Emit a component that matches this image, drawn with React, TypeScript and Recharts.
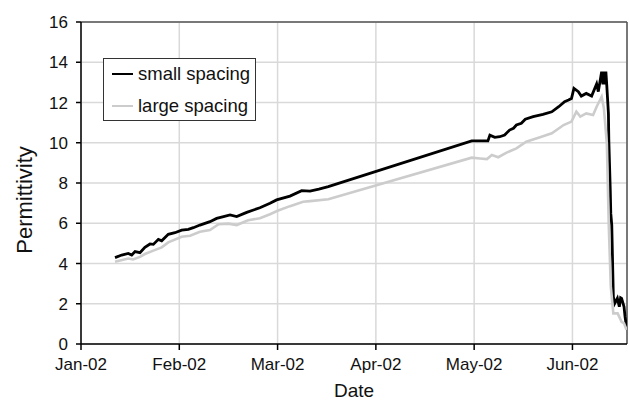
import React from 'react';
import {
  LineChart,
  Line,
  XAxis,
  YAxis,
  CartesianGrid,
  ReferenceLine,
  Label,
} from 'recharts';

// x positions are months since 1 Jan 2002 (axis is spaced one tick per month)
const monthLabels = ['Jan-02', 'Feb-02', 'Mar-02', 'Apr-02', 'May-02', 'Jun-02'];
const monthTicks = [0, 1, 2, 3, 4, 5];
const yTicks = [0, 2, 4, 6, 8, 10, 12, 14, 16];
const xMax = 5.555;

const smallT = [
  0.346, 0.414, 0.481, 0.516, 0.55, 0.6, 0.65, 0.702, 0.736, 0.787, 0.821, 0.888,
  0.956, 1.024, 1.092, 1.143, 1.21, 1.312, 1.38, 1.45, 1.516, 1.584, 1.686, 1.82,
  1.923, 1.99, 2.126, 2.245, 2.33, 2.42, 2.516, 3.975, 4.14, 4.16, 4.21, 4.26,
  4.31, 4.36, 4.4, 4.43, 4.48, 4.52, 4.6, 4.7, 4.79, 4.86, 4.92, 4.96,
  4.99, 5.015, 5.06, 5.09, 5.14, 5.195, 5.246, 5.263, 5.297, 5.31, 5.32, 5.33,
  5.34, 5.35, 5.366, 5.37, 5.385, 5.39, 5.4, 5.416, 5.43, 5.457, 5.477, 5.49,
  5.5, 5.525, 5.535, 5.55,
];
const smallV = [
  4.29, 4.42, 4.5, 4.42, 4.59, 4.54, 4.8, 4.97, 4.95, 5.2, 5.13, 5.45,
  5.53, 5.66, 5.7, 5.78, 5.91, 6.08, 6.24, 6.33, 6.41, 6.33, 6.54, 6.77,
  6.99, 7.16, 7.35, 7.62, 7.6, 7.7, 7.82, 10.09, 10.09, 10.38, 10.27, 10.3,
  10.38, 10.63, 10.72, 10.88, 10.97, 11.17, 11.3, 11.41, 11.54, 11.79, 12.04, 12.12,
  12.2, 12.7, 12.54, 12.32, 12.45, 12.32, 12.92, 12.54, 13.53, 12.9, 13.53, 12.9,
  13.53, 12.79, 11.46, 10.14, 7.6, 6.49, 5.91, 2.35, 2.02, 2.27, 1.85, 2.3,
  2.27, 1.85, 1.36, 0.86,
];

const largeT = [
  0.346, 0.481, 0.53, 0.6, 0.65, 0.736, 0.821, 0.888, 1.024, 1.11, 1.21, 1.312,
  1.4, 1.5, 1.584, 1.7, 1.82, 1.923, 2.0, 2.126, 2.26, 2.33, 2.516, 3.975,
  4.06, 4.13, 4.18, 4.245, 4.33, 4.43, 4.53, 4.67, 4.79, 4.91, 4.99, 5.04,
  5.08, 5.14, 5.21, 5.246, 5.297, 5.32, 5.35, 5.37, 5.39, 5.416, 5.46, 5.5,
  5.525, 5.55,
];
const largeV = [
  4.09, 4.25, 4.2, 4.33, 4.47, 4.64, 4.8, 5.05, 5.33, 5.38, 5.58, 5.66,
  5.95, 5.98, 5.91, 6.15, 6.25, 6.45, 6.62, 6.85, 7.07, 7.1, 7.19, 9.26,
  9.22, 9.19, 9.39, 9.28, 9.51, 9.72, 10.05, 10.27, 10.47, 10.88, 11.05, 11.54,
  11.3, 11.46, 11.38, 11.79, 12.29, 11.71, 9.97, 5.83, 2.85, 1.52, 1.52, 1.1,
  1.03, 0.7,
];

const smallData = smallT.map((t, i) => ({ t, v: smallV[i] }));
const largeData = largeT.map((t, i) => ({ t, v: largeV[i] }));

const font = '"Liberation Sans", Arial, sans-serif';
const tickStyle = { fill: '#111', fontSize: 17, fontFamily: font };

export default function App() {
  return (
    <div style={{ position: 'relative', width: 629, height: 401, background: '#fff' }}>
      <style>{'body{margin:0}'}</style>
      <LineChart
        width={629}
        height={401}
        margin={{ top: 22, right: 2, left: 0, bottom: 0 }}
      >
        <CartesianGrid stroke="#d9d9d9" strokeWidth={1.5} />
        <XAxis
          type="number"
          dataKey="t"
          domain={[0, xMax]}
          allowDataOverflow
          ticks={monthTicks}
          tickFormatter={(v: number) => monthLabels[v]}
          height={57}
          tickSize={6}
          tickMargin={8}
          stroke="#000"
          strokeWidth={1.5}
          tick={tickStyle}
        >
          <Label
            content={({ viewBox }: any) => (
              <text
                x={viewBox.x + viewBox.width / 2}
                y={viewBox.y + 46}
                textAnchor="middle"
                dominantBaseline="central"
                fontSize={19}
                fontFamily={font}
                fill="#111"
              >
                Date
              </text>
            )}
          />
        </XAxis>
        <YAxis
          type="number"
          domain={[0, 16]}
          ticks={yTicks}
          width={81}
          tickSize={5}
          tickMargin={8}
          stroke="#000"
          strokeWidth={1.5}
          tick={tickStyle}
        >
          <Label
            content={({ viewBox }: any) => {
              const cx = 24;
              const cy = viewBox.y + viewBox.height / 2 + 17;
              return (
                <text
                  x={cx}
                  y={cy}
                  transform={`rotate(-90, ${cx}, ${cy})`}
                  textAnchor="middle"
                  dominantBaseline="central"
                  fontSize={22}
                  fontFamily={font}
                  fill="#111"
                >
                  Permittivity
                </text>
              );
            }}
          />
        </YAxis>
        <ReferenceLine y={16} stroke="#555" strokeWidth={1.5} />
        <ReferenceLine x={xMax} stroke="#555" strokeWidth={1.5} />
        <Line
          data={smallData}
          dataKey="v"
          type="linear"
          stroke="#000"
          strokeWidth={2.8}
          dot={false}
          isAnimationActive={false}
        />
        <Line
          data={largeData}
          dataKey="v"
          type="linear"
          stroke="#cccccc"
          strokeWidth={2.6}
          dot={false}
          isAnimationActive={false}
        />
      </LineChart>
      <div
        style={{
          position: 'absolute',
          left: 103,
          top: 58,
          width: 151,
          height: 61,
          border: '1px solid #333',
          background: '#fff',
          fontFamily: font,
          fontSize: 18.5,
          color: '#111',
        }}
      >
        {[
          { name: 'small spacing', color: '#000' },
          { name: 'large spacing', color: '#cccccc' },
        ].map((s, i) => (
          <div
            key={s.name}
            style={{
              position: 'absolute',
              left: 8,
              top: i === 0 ? 4 : 36,
              height: 22,
              display: 'flex',
              alignItems: 'center',
              whiteSpace: 'nowrap',
            }}
          >
            <span
              style={{ display: 'inline-block', width: 21, height: 2.5, background: s.color, marginRight: 5 }}
            />
            {s.name}
          </div>
        ))}
      </div>
    </div>
  );
}
